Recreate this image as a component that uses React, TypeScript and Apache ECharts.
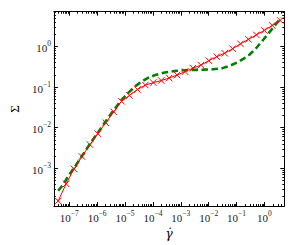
import React, { useEffect, useRef } from "react";
import * as echarts from "echarts";

// Red curve (solid line with x markers)
const redX = [4.02e-8, 7.73e-8, 1.49e-7, 2.86e-7, 5.51e-7, 1.06e-6, 2.04e-6, 3.92e-6, 7.55e-6, 1.45e-5, 2.79e-5, 5.37e-5, 1.03e-4, 1.99e-4, 3.83e-4, 7.36e-4, 1.42e-3, 2.72e-3, 5.25e-3, 1.01e-2, 1.94e-2, 3.73e-2, 7.18e-2, 0.138, 0.266, 0.512, 0.985, 1.89, 3.64];
const redY = [1.57e-4, 4.16e-4, 9.66e-4, 1.95e-3, 3.84e-3, 7.13e-3, 1.32e-2, 2.46e-2, 4.45e-2, 6.24e-2, 8.73e-2, 0.112, 0.129, 0.145, 0.167, 0.198, 0.24, 0.293, 0.347, 0.447, 0.56, 0.682, 0.879, 1.16, 1.5, 1.93, 2.49, 3.3, 4.38];

// Green curve (thick dashed)
const greenX = [4.02e-8, 5.97e-8, 9.62e-8, 1.49e-7, 2.86e-7, 5.51e-7, 1.06e-6, 2.04e-6, 3.92e-6, 7.53e-6, 1.31e-5, 2.29e-5, 3.99e-5, 6.95e-5, 1.21e-4, 2.67e-4, 5.92e-4, 1.31e-3, 2.89e-3, 6.38e-3, 1.41e-2, 3.12e-2, 5.87e-2, 0.102, 0.179, 0.287, 0.5, 0.871, 1.4, 2.44, 3.94];
const greenY = [2.8e-4, 3.93e-4, 6.7e-4, 1.02e-3, 2.01e-3, 3.95e-3, 7.55e-3, 1.44e-2, 2.68e-2, 4.84e-2, 7.18e-2, 0.104, 0.137, 0.172, 0.198, 0.228, 0.248, 0.259, 0.265, 0.269, 0.274, 0.293, 0.337, 0.399, 0.5, 0.627, 0.904, 1.42, 2.1, 3.4, 5.18];

// Axis ranges and decade tick exponents
const xRange = [2.82e-8, 5.13];
const yRange = [1.175e-4, 7.18];
const xMajorExponents = [-7, -6, -5, -4, -3, -2, -1, 0];
const yMajorExponents = [-3, -2, -1, 0];

const lg = (v: number) => Math.log10(v);

function minorTicks(lo: number, hi: number): number[] {
  const out: number[] = [];
  for (let n = Math.floor(lo); n <= Math.ceil(hi); n++) {
    for (let k = 2; k <= 9; k++) {
      const v = n + Math.log10(k);
      if (v > lo && v < hi) out.push(v);
    }
  }
  return out;
}

const FONT = "Liberation Serif";

const rich = {
  b: { fontFamily: FONT, fontSize: 11, color: "#222", lineHeight: 14, verticalAlign: "bottom" },
  s: { fontFamily: FONT, fontSize: 7.5, color: "#222", lineHeight: 7.5, verticalAlign: "top" },
};

const fmt = (v: number) => {
  const e = Math.round(v);
  const es = e < 0 ? "\u2212" + String(-e) : String(e);
  return `{b|10}{s|${es}}`;
};

export default function App() {
  const ref = useRef<HTMLDivElement>(null);
  useEffect(() => {
    if (!ref.current) return;
    const chart = echarts.init(ref.current, null, { renderer: "svg" });
    const xMin = lg(xRange[0]);
    const xMax = lg(xRange[1]);
    const yMin = lg(yRange[0]);
    const yMax = lg(yRange[1]);
    const xMinor = minorTicks(xMin, xMax);
    const yMinor = minorTicks(yMin, yMax);
    const line = { show: true, onZero: false, lineStyle: { color: "#000", width: 1 } };
    const noLine = { show: false, onZero: false };

    const mkX = (pos: "bottom" | "top", major: boolean, labels: boolean, showLine: boolean) => ({
      type: "value",
      position: pos,
      min: xMin,
      max: xMax,
      gridIndex: 0,
      axisLine: showLine ? line : noLine,
      splitLine: { show: false },
      axisTick: {
        show: true,
        inside: true,
        length: major ? 4 : 2,
        lineStyle: { color: "#000", width: 1 },
        customValues: major ? xMajorExponents : xMinor,
      },
      axisLabel: labels
        ? { show: true, customValues: xMajorExponents, formatter: fmt, rich, margin: 3 }
        : { show: false },
      ...(labels && major
        ? {
            name: "\u03b3\u0307",
            nameLocation: "middle",
            nameGap: 12,
            nameTextStyle: { fontFamily: "DejaVu Serif", fontSize: 12, fontStyle: "italic", color: "#000" },
          }
        : {}),
    });
    const mkY = (pos: "left" | "right", major: boolean, labels: boolean, showLine: boolean) => ({
      type: "value",
      position: pos,
      min: yMin,
      max: yMax,
      gridIndex: 0,
      axisLine: showLine ? line : noLine,
      splitLine: { show: false },
      axisTick: {
        show: true,
        inside: true,
        length: major ? 4 : 2,
        lineStyle: { color: "#000", width: 1 },
        customValues: major ? yMajorExponents : yMinor,
      },
      axisLabel: labels
        ? { show: true, customValues: yMajorExponents, formatter: fmt, rich, margin: 3 }
        : { show: false },
      ...(labels && major
        ? {
            name: "\u03a3",
            nameLocation: "middle",
            nameGap: 29,
            nameTextStyle: { fontFamily: FONT, fontSize: 13, color: "#000" },
          }
        : {}),
    });

    chart.setOption({
      animation: false,
      backgroundColor: "#fff",
      grid: { left: 44.5, right: 15.7, top: 11.7, bottom: 37.7, containLabel: false },
      xAxis: [
        mkX("bottom", true, true, true),
        mkX("bottom", false, false, false),
        mkX("top", true, false, true),
        mkX("top", false, false, false),
      ],
      yAxis: [
        mkY("left", true, true, true),
        mkY("left", false, false, false),
        mkY("right", true, false, true),
        mkY("right", false, false, false),
      ],
      series: [
        {
          type: "line",
          xAxisIndex: 0,
          yAxisIndex: 0,
          data: redX.map((x, i) => [lg(x), lg(redY[i])]),
          lineStyle: { color: "#ff0000", width: 1 },
          symbol: "path://M0,0L10,10M10,0L0,10",
          symbolSize: 6.5,
          itemStyle: { color: "none", borderColor: "#ff0000", borderWidth: 1 },
          showSymbol: true,
          z: 3,
        },
        {
          type: "line",
          xAxisIndex: 0,
          yAxisIndex: 0,
          data: greenX.map((x, i) => [lg(x), lg(greenY[i])]),
          lineStyle: { color: "#008000", width: 2.6, type: [6.5, 3.5] },
          showSymbol: false,
          symbol: "none",
          z: 2,
        },
      ],
    });
    return () => chart.dispose();
  }, []);
  return (
    <div
      ref={ref}
      style={{ position: "absolute", left: 0, top: 0, width: 300, height: 245, background: "#fff" }}
    />
  );
}
